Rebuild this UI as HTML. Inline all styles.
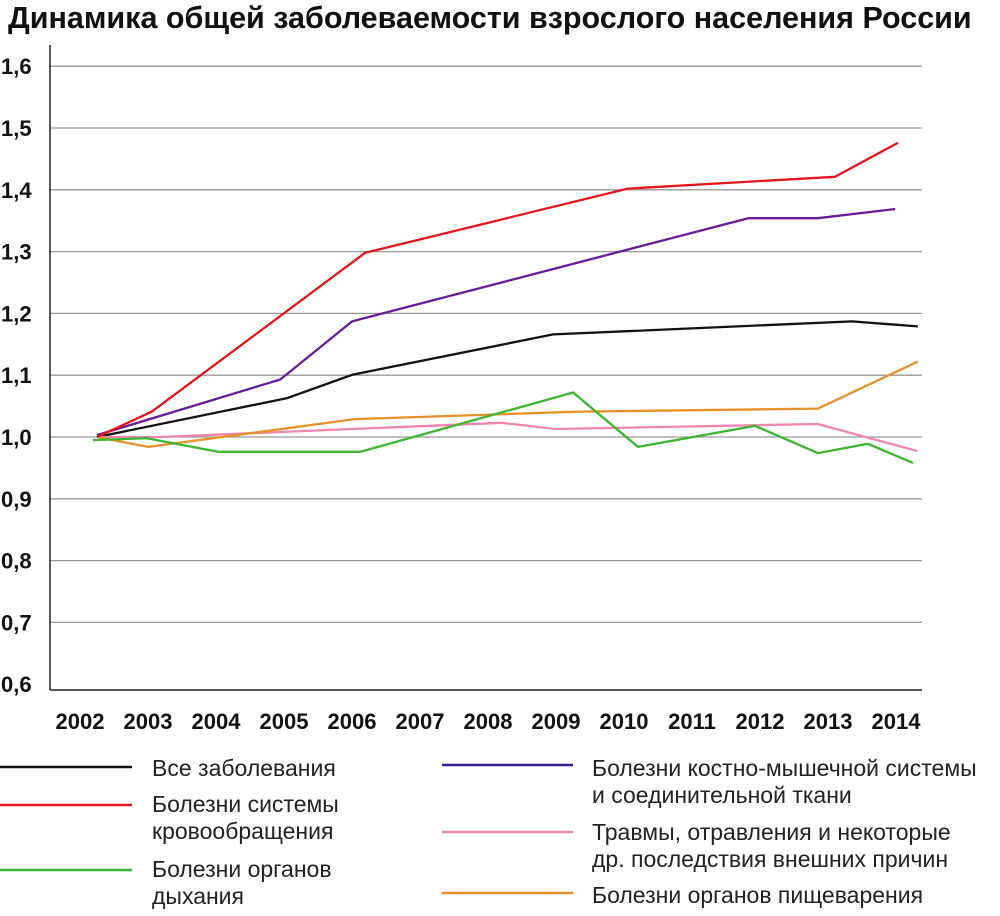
<!DOCTYPE html>
<html><head><meta charset="utf-8"><style>
body{margin:0;background:#fff;width:1000px;height:911px;overflow:hidden;font-family:"Liberation Sans","DejaVu Sans",sans-serif}
</style></head><body>
<svg id="chart" width="1000" height="911" viewBox="0 0 1000 911" xmlns="http://www.w3.org/2000/svg">
<text x="8" y="28" font-size="30.5" font-weight="bold" fill="#111" font-family="Liberation Sans, sans-serif">Динамика общей заболеваемости взрослого населения России</text>
<g id="grid"></g>
<g id="yticks"></g>
<g id="xticks"></g>
<line x1="50" y1="45" x2="50" y2="690" stroke="#222" stroke-width="1.5"/>
<line x1="50" y1="690" x2="922" y2="690" stroke="#222" stroke-width="1.5"/>
<g id="series"></g>
<g id="legend"></g>
</svg>
<script>
const yTicks=[1.6,1.5,1.4,1.3,1.2,1.1,1.0,0.9,0.8,0.7,0.6];
const yLabels=["1,6","1,5","1,4","1,3","1,2","1,1","1,0","0,9","0,8","0,7","0,6"];
const years=[2002,2003,2004,2005,2006,2007,2008,2009,2010,2011,2012,2013,2014];
const allX=[2002,2004.78,2005.74,2008.67,2013.04,2014];
const allY=[1.0,1.063,1.101,1.166,1.187,1.179];
const circX=[2002,2002.8,2005.92,2009.76,2012.79,2013.71];
const circY=[1.0,1.041,1.298,1.402,1.421,1.476];
const respX=[2001.94,2002.73,2003.77,2005.85,2008.96,2009.91,2011.62,2012.54,2013.27,2013.93];
const respY=[0.995,0.998,0.976,0.976,1.072,0.984,1.018,0.974,0.989,0.958];
const muscX=[2002,2004.68,2005.73,2011.52,2012.54,2013.67];
const muscY=[1.003,1.093,1.187,1.354,1.354,1.369];
const injX=[2002,2002.92,2007.92,2008.7,2012.54,2014];
const injY=[1.0,1.0,1.023,1.013,1.021,0.977];
const digX=[2002,2002.75,2005.77,2009.02,2012.54,2014];
const digY=[1.0,0.984,1.029,1.041,1.046,1.122];

const NS="http://www.w3.org/2000/svg";
function xS(yr){return 97+(yr-2002)*68.4;}
function yS(v){return 437-(v-1)*618;}
function xL(i){return 80+i*68;}
function mk(tag,attrs,parent){const e=document.createElementNS(NS,tag);for(const k in attrs)e.setAttribute(k,attrs[k]);parent.appendChild(e);return e;}
const grid=document.getElementById('grid'),yt=document.getElementById('yticks'),xt=document.getElementById('xticks');
yTicks.forEach((v,i)=>{
  if(v>0.65){const l=mk('line',{x1:50,x2:922,y1:yS(v),y2:yS(v),stroke:'#999','stroke-width':1.3},grid);
  
  }
  const t=mk('text',{x:1,y:yS(v)+8,'font-size':22,'font-weight':'bold',fill:'#111'},yt);
  t.textContent=yLabels[i];
  
  
});
years.forEach((y,i)=>{
  const t=mk('text',{x:xL(i),y:729,'font-size':22,'font-weight':'bold',fill:'#111','text-anchor':'middle'},xt);
  t.textContent=y;
  
  
});
const S=[
 ['all-diseases',allX,allY,'#111'],
 ['circulatory',circX,circY,'#e3161b'],
 ['respiratory',respX,respY,'#3cb531'],
 ['musculoskeletal',muscX,muscY,'#6a1b9a'],
 ['injuries',injX,injY,'#ef85ae'],
 ['digestive',digX,digY,'#e8902a']];
const sg=document.getElementById('series');
[0,4,5,2,3,1].forEach(k=>{const s=S[k];
  const pts=s[1].map((x,i)=>xS(x).toFixed(1)+','+yS(s[2][i]).toFixed(1)).join(' ');
  const p=mk('polyline',{points:pts,fill:'none',stroke:s[3],'stroke-width':2.3,'stroke-linejoin':'round'},sg);
  
  
});
const lg=document.getElementById('legend');
const entries=[
 [0,767,132,152,['Все заболевания'],776,'#111'],
 [0,805,132,152,['Болезни системы','кровообращения'],812,'#e3161b'],
 [0,870,132,152,['Болезни органов','дыхания'],877,'#3cb531'],
 [442,765,573,592,['Болезни костно-мышечной системы','и соединительной ткани'],776,'#3a1f8a'],
 [442,832,573,592,['Травмы, отравления и некоторые','др. последствия внешних причин'],840,'#ef85ae'],
 [442,893,573,592,['Болезни органов пищеварения'],903,'#e8902a']];
entries.forEach(e=>{
  const g=mk('g',{},lg);
  
  
  mk('line',{x1:e[0],x2:e[2],y1:e[1],y2:e[1],stroke:e[6],'stroke-width':2.5},g);
  e[4].forEach((s,i)=>{const t=mk('text',{x:e[3],y:e[5]+i*27,'font-size':23,fill:'#222'},g);t.textContent=s;});
});
</script>
</body></html>
